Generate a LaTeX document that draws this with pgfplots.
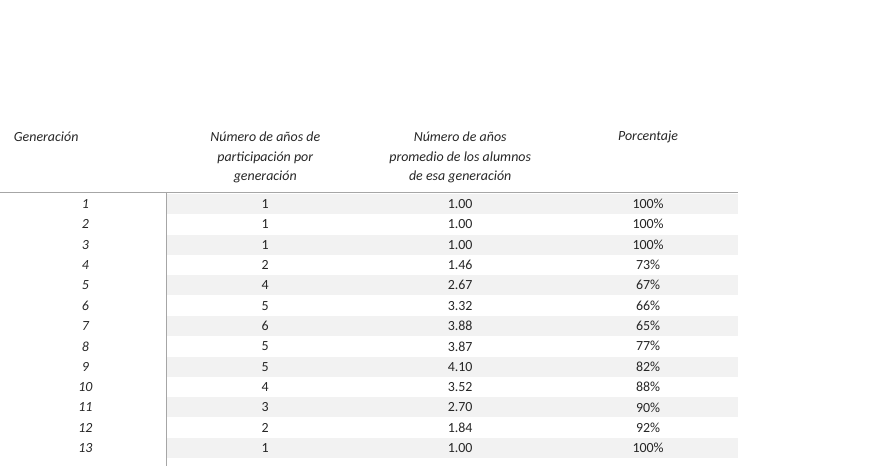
\documentclass[border=0pt]{standalone}
\usepackage{pgfplots}
\pgfplotsset{compat=1.18}
\usepackage{pgfplotstable}
\usepackage{fontspec}
\setmainfont{Carlito}
\definecolor{stripe}{HTML}{F2F2F2}
\pgfplotstableread{
row gen n avg pct
1 1 1 1.00 100
2 2 1 1.00 100
3 3 1 1.00 100
4 4 2 1.46 73
5 5 4 2.67 67
6 6 5 3.32 66
7 7 6 3.88 65
8 8 5 3.87 77
9 9 5 4.10 82
10 10 4 3.52 88
11 11 3 2.70 90
12 12 2 1.84 92
13 13 1 1.00 100
}\tbl
\begin{document}
\begin{tikzpicture}
\begin{axis}[scale only axis, width=872bp, height=466bp,
  xmin=0,xmax=872,ymin=0,ymax=466, y dir=reverse, axis lines=none,
  clip=false,
  every node near coord/.style={font=\fontsize{14}{16}\selectfont, text=black!85, anchor=center},
  nodes near coords align={center}]
\path (axis cs:0,0) -- (axis cs:872,466);
\pgfplotsinvokeforeach{1,3,5,7,9,11,13}{
  \fill[stripe] (axis cs:167,{204+20.35*(#1-1)-10}) rectangle (axis cs:738,{204+20.35*(#1-1)+10});
}
\draw[gray!70, line width=0.8pt] (axis cs:0,192) -- (axis cs:738,192);
\draw[gray!70, line width=0.8pt] (axis cs:166,192) -- (axis cs:166,466);
\addplot[draw=none, mark=none, nodes near coords={\itshape\pgfplotspointmeta}, point meta=explicit symbolic]
  table[x expr=85, y expr={204+20.35*(\thisrow{row}-1)}, meta=gen]{\tbl};
\addplot[draw=none, mark=none, nodes near coords, point meta=explicit symbolic]
  table[x expr=265, y expr={204+20.35*(\thisrow{row}-1)}, meta=n]{\tbl};
\addplot[draw=none, mark=none, nodes near coords, point meta=explicit symbolic]
  table[x expr=460, y expr={204+20.35*(\thisrow{row}-1)}, meta=avg]{\tbl};
\addplot[draw=none, mark=none, nodes near coords={\pgfplotspointmeta\%}, point meta=explicit symbolic]
  table[x expr=648, y expr={204+20.35*(\thisrow{row}-1)}, meta=pct]{\tbl};
\begin{scope}[every node/.style={font=\fontsize{14}{20}\selectfont\itshape, text=black!85, align=center}]
\node[anchor=west] at (axis cs:10,137) {Generación};
\node[anchor=north] at (axis cs:265,128) {Número de años de\\participación por\\generación};
\node[anchor=north] at (axis cs:460,128) {Número de años\\promedio de los alumnos\\de esa generación};
\node at (axis cs:648,137) {Porcentaje};
\end{scope}
\end{axis}
\end{tikzpicture}
\end{document}
